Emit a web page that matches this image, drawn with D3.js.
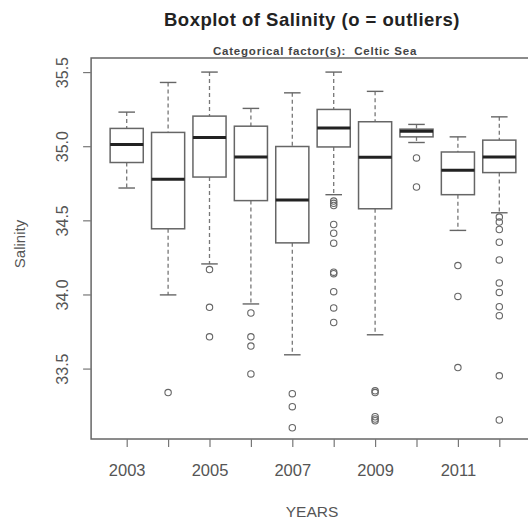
<!DOCTYPE html>
<html>
<head>
<meta charset="utf-8">
<script src="https://cdn.jsdelivr.net/npm/d3@7"></script>
<style>
  html, body { margin: 0; padding: 0; background: #fff; }
  svg { display: block; font-family: "Liberation Sans", Arial, sans-serif; }
</style>
</head>
<body>
<svg id="chart" width="528" height="520"></svg>
<script>
// Salinity by year, Celtic Sea: five-number summaries plus outliers
const years        = [2003, 2004, 2005, 2006, 2007, 2008, 2009, 2010, 2011, 2012];
const whiskerHigh  = [35.23, 35.43, 35.50, 35.255, 35.36, 35.50, 35.37, 35.147, 35.063, 35.198];
const upperQuart   = [35.12, 35.093, 35.203, 35.135, 34.998, 35.248, 35.165, 35.115, 34.961, 35.041];
const medians      = [35.011, 34.777, 35.059, 34.928, 34.637, 35.122, 34.926, 35.101, 34.838, 34.928];
const lowerQuart   = [34.89, 34.443, 34.792, 34.633, 34.348, 34.995, 34.578, 35.063, 34.673, 34.822];
const whiskerLow   = [34.718, 33.997, 34.206, 33.936, 33.593, 34.673, 33.728, 35.025, 34.432, 34.551];
const outliers     = [
  [],
  [33.338],
  [34.168, 33.913, 33.714],
  [33.875, 33.714, 33.652, 33.464],
  [33.331, 33.243, 33.101],
  [34.63, 34.615, 34.60, 34.472, 34.413, 34.346, 34.15, 34.14, 34.019, 33.909, 33.811],
  [33.35, 33.338, 33.175, 33.16, 33.148],
  [34.921, 34.725],
  [34.195, 33.987, 33.507],
  [34.522, 34.488, 34.438, 34.352, 34.233, 34.078, 34.014, 33.917, 33.857, 33.451, 33.153]
];
const yTicks = [33.5, 34.0, 34.5, 35.0, 35.5];
const xLabelled = [2003, 2005, 2007, 2009, 2011];

const svg = d3.select("#chart");

const x = d3.scaleLinear().domain([2003, 2012]).range([126.7, 499.3]);
const y = d3.scaleLinear().domain([33.025, 35.595]).range([439, 58]);
const unit = x(2004) - x(2003);
const boxW = 0.8 * unit;
const capW = 0.4 * unit;

const frameL = x(2002.14), frameR = x(2012.86);
const frameT = y.range()[1], frameB = y.range()[0];

// titles
svg.append("text")
  .attr("x", 312).attr("y", 26)
  .attr("text-anchor", "middle")
  .attr("font-size", 18.5).attr("font-weight", "bold").attr("fill", "#222")
  .attr("letter-spacing", 0.5)
  .text("Boxplot of Salinity (o = outliers)");
svg.append("text")
  .attr("x", 315).attr("y", 54.5)
  .attr("text-anchor", "middle")
  .attr("font-size", 11.5).attr("font-weight", "bold").attr("fill", "#444")
  .attr("letter-spacing", 0.8)
  .style("white-space", "pre")
  .text("Categorical factor(s):  Celtic Sea");

// boxes
const g = svg.append("g");
years.forEach((yr, i) => {
  const cx = x(yr);
  const stroke = "#666";
  // whiskers
  g.append("line")
    .attr("x1", cx).attr("x2", cx)
    .attr("y1", y(whiskerHigh[i])).attr("y2", y(upperQuart[i]))
    .attr("stroke", "#777").attr("stroke-width", 1.3).attr("stroke-dasharray", "4,3");
  g.append("line")
    .attr("x1", cx).attr("x2", cx)
    .attr("y1", y(lowerQuart[i])).attr("y2", y(whiskerLow[i]))
    .attr("stroke", "#777").attr("stroke-width", 1.3).attr("stroke-dasharray", "4,3");
  // caps
  [whiskerHigh[i], whiskerLow[i]].forEach(v => {
    g.append("line")
      .attr("x1", cx - capW / 2).attr("x2", cx + capW / 2)
      .attr("y1", y(v)).attr("y2", y(v))
      .attr("stroke", stroke).attr("stroke-width", 1.4);
  });
  // box
  g.append("rect")
    .attr("x", cx - boxW / 2).attr("width", boxW)
    .attr("y", y(upperQuart[i])).attr("height", y(lowerQuart[i]) - y(upperQuart[i]))
    .attr("fill", "#fff").attr("stroke", stroke).attr("stroke-width", 1.5);
  // median
  g.append("line")
    .attr("x1", cx - boxW / 2).attr("x2", cx + boxW / 2)
    .attr("y1", y(medians[i])).attr("y2", y(medians[i]))
    .attr("stroke", "#222").attr("stroke-width", 3);
  // outliers
  g.selectAll(null).data(outliers[i]).enter().append("circle")
    .attr("cx", cx).attr("cy", d => y(d)).attr("r", 3.2)
    .attr("fill", "none").attr("stroke", "#666").attr("stroke-width", 1.1);
});

// frame
svg.append("rect")
  .attr("x", frameL).attr("y", frameT)
  .attr("width", frameR - frameL).attr("height", frameB - frameT)
  .attr("fill", "none").attr("stroke", "#666").attr("stroke-width", 1.5);

// y axis
const yAxis = svg.append("g")
  .attr("transform", `translate(${frameL},0)`)
  .call(d3.axisLeft(y).tickValues(yTicks).tickFormat(d3.format(".1f")).tickSize(8).tickPadding(0));
yAxis.select(".domain").remove();
yAxis.selectAll(".tick line").attr("stroke", "#777").attr("stroke-width", 1.2);
yAxis.selectAll(".tick text")
  .attr("transform", "rotate(-90)")
  .attr("x", 0).attr("y", -23).attr("dy", 0)
  .attr("text-anchor", "middle")
  .attr("font-size", 16).attr("fill", "#555")
  .attr("font-family", "Liberation Sans, Arial, sans-serif");

// x axis
const xAxis = svg.append("g")
  .attr("transform", `translate(0,${frameB})`)
  .call(d3.axisBottom(x).tickValues(years)
    .tickFormat(d => xLabelled.includes(d) ? String(d) : "")
    .tickSize(8).tickPadding(0));
xAxis.select(".domain").remove();
xAxis.selectAll(".tick line").attr("stroke", "#777").attr("stroke-width", 1.2);
xAxis.selectAll(".tick text")
  .attr("y", 37).attr("dy", 0)
  .attr("font-size", 16.5).attr("fill", "#555")
  .attr("font-family", "Liberation Sans, Arial, sans-serif");

// axis titles
svg.append("text")
  .attr("transform", "translate(25,244) rotate(-90)")
  .attr("text-anchor", "middle")
  .attr("font-size", 15).attr("fill", "#555")
  .text("Salinity");
svg.append("text")
  .attr("x", 312).attr("y", 517)
  .attr("text-anchor", "middle")
  .attr("font-size", 15.5).attr("fill", "#555")
  .text("YEARS");
</script>
</body>
</html>
